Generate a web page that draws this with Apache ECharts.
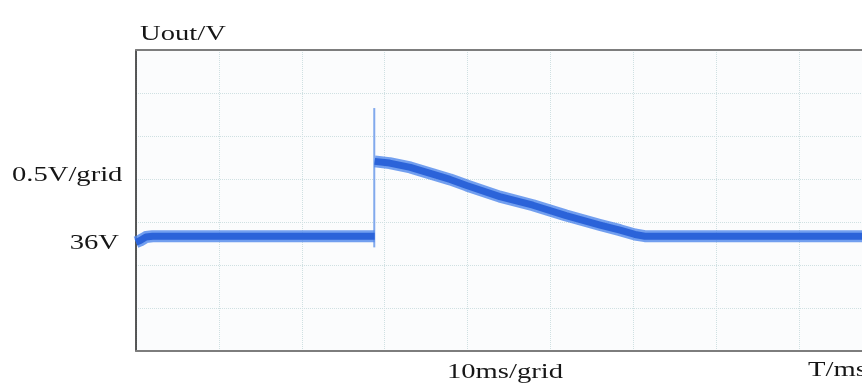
<!DOCTYPE html>
<html>
<head>
<meta charset="utf-8">
<script src="https://cdn.jsdelivr.net/npm/echarts@6/dist/echarts.min.js"></script>
<style>
html,body{margin:0;padding:0;background:#ffffff;}
#chart{width:862px;height:385px;}
</style>
</head>
<body>
<div id="chart"></div>
<script>
// ---- data (time in ms, voltage in V) ----
const beforeT = [0, 0.5, 1.2, 2.0, 10, 20, 28.8];
const beforeV = [35.93, 35.95, 35.99, 36.0, 36.0, 36.0, 36.0];
const afterT = [28.8, 30.6, 33.1, 35.5, 37.9, 39.9, 43.9, 47.9, 51.9, 56.0, 58.4, 60.2, 61.4, 70, 80, 87.6];
const afterV = [36.87, 36.85, 36.80, 36.73, 36.66, 36.59, 36.46, 36.36, 36.24, 36.13, 36.07, 36.02, 36.0, 36.0, 36.0, 36.0];
const spikeT = [28.75, 28.75];
const spikeV = [35.87, 37.49];
// axis / label texts
const yTitle = 'Uout/V';
const yScaleText = '0.5V/grid';
const yRefText = '36V';
const xScaleText = '10ms/grid';
const xTitle = 'T/ms';
// scope settings
const V_PER_DIV = 0.5;
const V_BOTTOM = 34.665;   // voltage at the bottom edge of the screen
const MS_PER_DIV = 10;
const X_MAX = 87.6;

const toDiv = v => (v - V_BOTTOM) / V_PER_DIV;
const pairs = (ts, vs) => ts.map((t, i) => [t, toDiv(vs[i])]);
const beforeData = pairs(beforeT, beforeV);
const afterData = pairs(afterT, afterV);
const spikeData = pairs(spikeT, spikeV);

const chart = echarts.init(document.getElementById('chart'), null, {renderer: 'canvas'});
const gridLine = {show: true, lineStyle: {color: '#cfe0e2', type: 'dotted', width: 1}};
const font = '22px "Liberation Serif", "DejaVu Serif", serif';
const SX = 1.3;
function label(text, x, y, align) {
  return {type: 'text', x: x, y: y, scaleX: SX, z: 10,
    style: {text: text, font: font, fill: '#161616', textAlign: align, textVerticalAlign: 'middle'}};
}
const bandSeries = (data, color, width, z) => ({
  type: 'line', data: data, showSymbol: false, symbol: 'none', smooth: false, z: z,
  lineStyle: {color: color, width: width, cap: 'butt', join: 'round'}, animation: false
});

chart.setOption({
  animation: false,
  backgroundColor: '#ffffff',
  grid: {left: 136, right: 0, top: 50, bottom: 34, show: true, backgroundColor: '#fbfcfd', borderWidth: 0},
  xAxis: [{
    type: 'value', min: 0, max: X_MAX, interval: MS_PER_DIV, position: 'bottom',
    axisLine: {show: true, lineStyle: {color: '#7d7d7d', width: 2}},
    axisTick: {show: false}, axisLabel: {show: false}, splitLine: gridLine
  }, {
    type: 'value', min: 0, max: X_MAX, interval: MS_PER_DIV, position: 'top',
    axisLine: {show: true, lineStyle: {color: '#7d7d7d', width: 2}},
    axisTick: {show: false}, axisLabel: {show: false}, splitLine: {show: false}
  }],
  yAxis: {
    type: 'value', min: 0, max: 7, interval: 1,
    axisLine: {show: true, lineStyle: {color: '#222222', width: 1.5}},
    axisTick: {show: false}, axisLabel: {show: false}, splitLine: gridLine
  },
  series: [
    bandSeries(spikeData, 'rgba(115,160,235,0.9)', 2, 3),
    bandSeries(beforeData, 'rgba(80,135,235,0.8)', 12, 4),
    bandSeries(afterData, 'rgba(80,135,235,0.8)', 12, 4),
    bandSeries(beforeData, '#2b63d9', 7, 5),
    bandSeries(afterData, '#2b63d9', 7, 5)
  ],
  graphic: [
    label(yTitle, 140, 34, 'left'),
    label(yScaleText, 12, 175, 'left'),
    label(yRefText, 119, 243, 'right'),
    label(xScaleText, 447, 372, 'left'),
    label(xTitle, 808, 370, 'left')
  ]
});
</script>
</body>
</html>
